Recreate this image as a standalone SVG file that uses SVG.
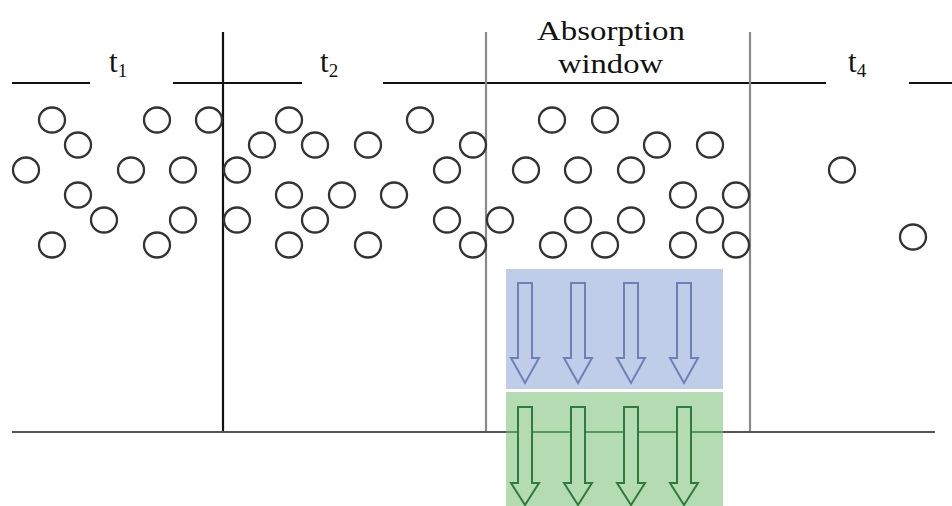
<svg xmlns="http://www.w3.org/2000/svg" width="952" height="506" viewBox="0 0 952 506">
  <style>
    .lbl { font-family: "Liberation Serif", "Times New Roman", serif; font-size: 28px; fill: #111; }
    .tl { font-size: 31px; }
    .sub { font-size: 19px; }
    .axis { stroke: #111; stroke-width: 2.2; fill: none; }
    .base { stroke: #555; stroke-width: 2.2; fill: none; }
    .win { stroke: #8a8a8a; stroke-width: 2.2; fill: none; }
    .p { fill: none; stroke: #333; stroke-width: 2.3; }
    .ab { fill: #c0cde8; stroke: #6f80b8; stroke-width: 2; }
    .ag { fill: #b4dbb1; stroke: #2f7a3e; stroke-width: 2; }
  </style>
  <defs>
    <ellipse id="pt" cx="0" cy="0" rx="13" ry="12.5" class="p"/>
  </defs>
  <rect width="952" height="506" fill="#ffffff"/>

  <!-- time axis and dividers -->
  <g id="axes">
    <path class="axis" d="M12 83H90 M173 83H302 M383 83H826 M909 83H952"/>
    <path class="axis" d="M223 32V433"/>
    <path class="win" d="M486 32V433 M750 32V433"/>
    <path class="base" d="M12 432H935"/>
  </g>

  <!-- interval labels -->
  <g id="label-t1"><text class="lbl tl" x="109" y="72">t<tspan class="sub" dy="5">1</tspan></text></g>
  <g id="label-t2"><text class="lbl tl" x="320" y="72">t<tspan class="sub" dy="5">2</tspan></text></g>
  <g id="label-window">
    <text class="lbl" x="537" y="40" textLength="148" lengthAdjust="spacingAndGlyphs">Absorption</text>
    <text class="lbl" x="558" y="73" textLength="105" lengthAdjust="spacingAndGlyphs">window</text>
  </g>
  <g id="label-t4"><text class="lbl tl" x="848" y="72">t<tspan class="sub" dy="5">4</tspan></text></g>

  <!-- particles -->
  <g id="particles">
    <use href="#pt" x="52" y="120"/><use href="#pt" x="157" y="120"/><use href="#pt" x="209" y="120"/>
    <use href="#pt" x="289" y="120"/><use href="#pt" x="420" y="120"/><use href="#pt" x="552" y="120"/>
    <use href="#pt" x="605" y="120"/>
    <use href="#pt" x="78" y="145"/><use href="#pt" x="262" y="145"/><use href="#pt" x="315" y="145"/>
    <use href="#pt" x="368" y="145"/><use href="#pt" x="473" y="145"/><use href="#pt" x="657" y="145"/>
    <use href="#pt" x="710" y="145"/>
    <use href="#pt" x="26" y="170"/><use href="#pt" x="131" y="170"/><use href="#pt" x="183" y="170"/>
    <use href="#pt" x="237" y="170"/><use href="#pt" x="447" y="170"/><use href="#pt" x="526" y="170"/>
    <use href="#pt" x="578" y="170"/><use href="#pt" x="631" y="170"/><use href="#pt" x="842" y="170"/>
    <use href="#pt" x="78" y="195"/><use href="#pt" x="289" y="195"/><use href="#pt" x="342" y="195"/>
    <use href="#pt" x="394" y="195"/><use href="#pt" x="683" y="195"/><use href="#pt" x="736" y="195"/>
    <use href="#pt" x="104" y="220"/><use href="#pt" x="183" y="220"/><use href="#pt" x="237" y="220"/>
    <use href="#pt" x="315" y="220"/><use href="#pt" x="447" y="220"/><use href="#pt" x="500" y="220"/>
    <use href="#pt" x="578" y="220"/><use href="#pt" x="631" y="220"/><use href="#pt" x="710" y="220"/>
    <use href="#pt" x="52" y="245"/><use href="#pt" x="157" y="245"/><use href="#pt" x="289" y="245"/>
    <use href="#pt" x="368" y="245"/><use href="#pt" x="473" y="245"/><use href="#pt" x="553" y="245"/>
    <use href="#pt" x="605" y="245"/><use href="#pt" x="683" y="245"/><use href="#pt" x="736" y="245"/>
    <use href="#pt" x="913" y="237"/>
  </g>

  <!-- incoming flux -->
  <g id="incident">
    <rect x="506" y="269" width="217" height="120" fill="#c0cde8"/>
    <path class="ab" d="M518 283V358H511L525 383L539 358H532V283Z"/>
    <path class="ab" d="M571 283V358H564L578 383L592 358H585V283Z"/>
    <path class="ab" d="M624 283V358H617L631 383L645 358H638V283Z"/>
    <path class="ab" d="M677 283V358H670L684 383L698 358H691V283Z"/>
  </g>

  <!-- transmitted flux -->
  <g id="transmitted">
    <rect x="506" y="392" width="217" height="114" fill="#b4dbb1"/>
    <path d="M506 432H723" stroke="#4e9e5a" stroke-width="2"/>
    <path class="ag" d="M518 407V483H511L525 505L539 483H532V407Z"/>
    <path class="ag" d="M571 407V483H564L578 505L592 483H585V407Z"/>
    <path class="ag" d="M624 407V483H617L631 505L645 483H638V407Z"/>
    <path class="ag" d="M677 407V483H670L684 505L698 483H691V407Z"/>
  </g>
</svg>
